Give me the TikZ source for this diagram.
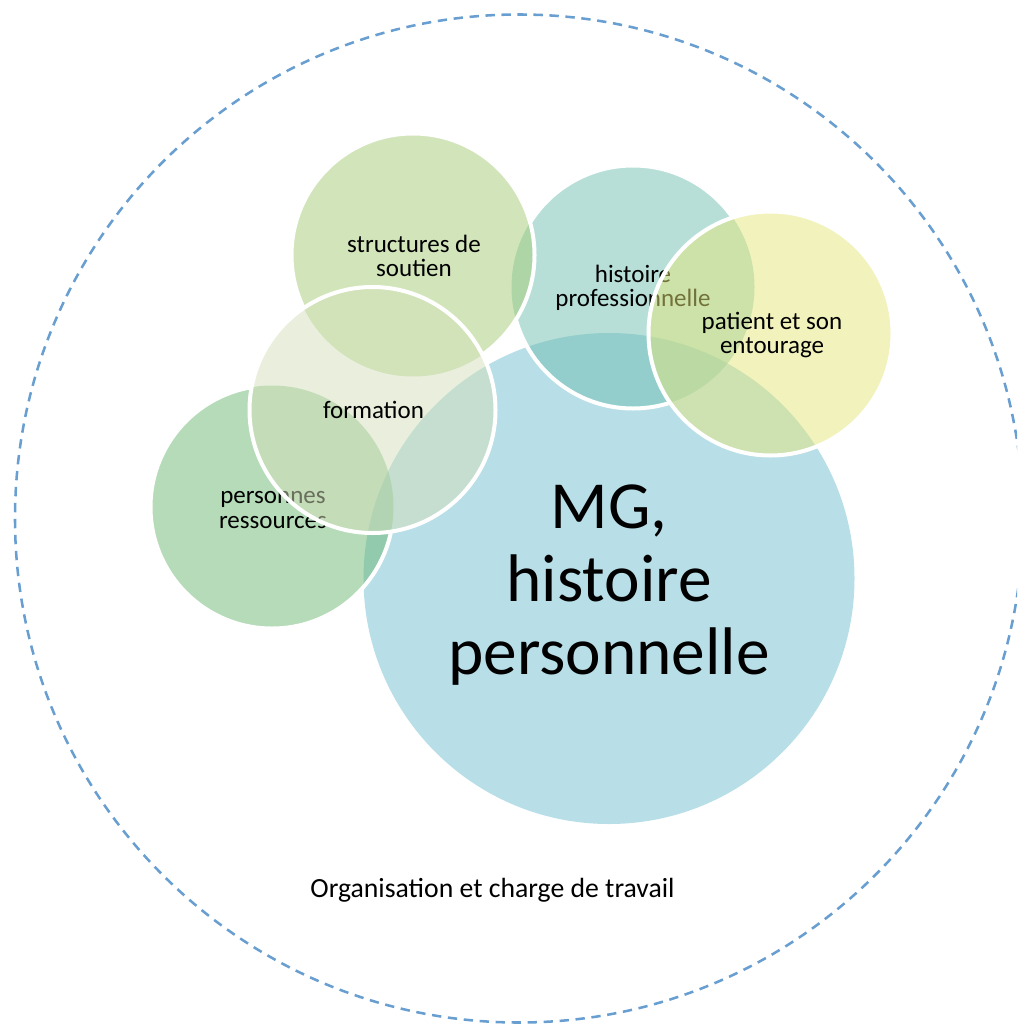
\documentclass[tikz,border=0pt]{standalone}
\usepackage{fontspec}
\setmainfont{Carlito}
\definecolor{mgc}{RGB}{113,189,209}
\definecolor{prc}{RGB}{107,183,113}
\definecolor{stc}{RGB}{165,203,117}
\definecolor{hpc}{RGB}{111,191,177}
\definecolor{ptc}{RGB}{229,229,121}
\definecolor{fmc}{RGB}{211,223,185}
\definecolor{dashc}{RGB}{104,158,208}
\begin{document}
\begin{tikzpicture}[x=0.75pt,y=-0.75pt,
  bub/.style={circle, inner sep=0pt, minimum size=182.25pt, fill opacity=0.5},
  lbl/.style={font=\fontsize{18.75}{18.4}\selectfont, align=center, text=black, inner sep=0pt},
  rim/.style={draw=white, line width=3pt}]
\useasboundingbox (0,0) rectangle (1017,1024);
\clip (0,0) rectangle (1017,1024);
% outer dashed boundary
\node[circle, inner sep=0pt, minimum size=756pt, draw=dashc, line width=1.9pt,
      dash pattern=on 7pt off 5pt] (outer) at (519,518.5) {};
% MG
\node[circle, inner sep=0pt, minimum size=368.25pt, fill=mgc, fill opacity=0.5] (mg) at (609,578.5) {};
\node[font=\fontsize{50.5}{54.5}\selectfont, align=center, inner sep=0pt] (mgt) at (609,585) {MG,\\histoire\\personnelle};
% personnes ressources
\node[bub, fill=prc] (pr) at (272,507) {};
\node[lbl] (prt) at (273,510) {personnes\\ressources};
\begin{scope}[even odd rule]
  \clip (0,0) rectangle (1017,1024) (372.5,410) circle[radius=123];
  \draw[rim] (pr.center) circle[radius=121.5];
\end{scope}
% histoire professionnelle
\node[bub, fill=hpc] (hp) at (633,287) {};
\node[lbl] (hpt) at (633,288) {histoire\\professionnelle};
\begin{scope}[even odd rule]
  \clip (0,0) rectangle (1017,1024) (413,255) circle[radius=121.5] (770.5,333.5) circle[radius=122];
  \draw[rim] (hp.center) circle[radius=121.5];
\end{scope}
% structures de soutien
\node[bub, fill=stc] (st) at (413,255) {};
\node[lbl] (stt) at (414,256) {structures de\\soutien};
\begin{scope}[even odd rule]
  \clip (0,0) rectangle (1017,1024) (372.5,410) circle[radius=123];
  \draw[rim] (st.center) circle[radius=121.5];
\end{scope}
% formation
\node[bub, fill=fmc, minimum size=184.5pt] (fm) at (372.5,410) {};
\draw[rim] (fm.center) circle[radius=123];
\node[lbl, anchor=base] (fmt) at (373.5,418) {formation};
% patient et son entourage
\node[bub, fill=ptc, minimum size=183pt] (pt) at (770.5,333.5) {};
\draw[rim] (pt.center) circle[radius=122];
\node[lbl] (ptt) at (772,335) {patient et son\\entourage};
% bottom label
\node[font=\fontsize{20.8}{24}\selectfont, inner sep=0pt, anchor=base] (org) at (492.5,897.7) {Organisation et charge de travail};
\end{tikzpicture}
\end{document}
